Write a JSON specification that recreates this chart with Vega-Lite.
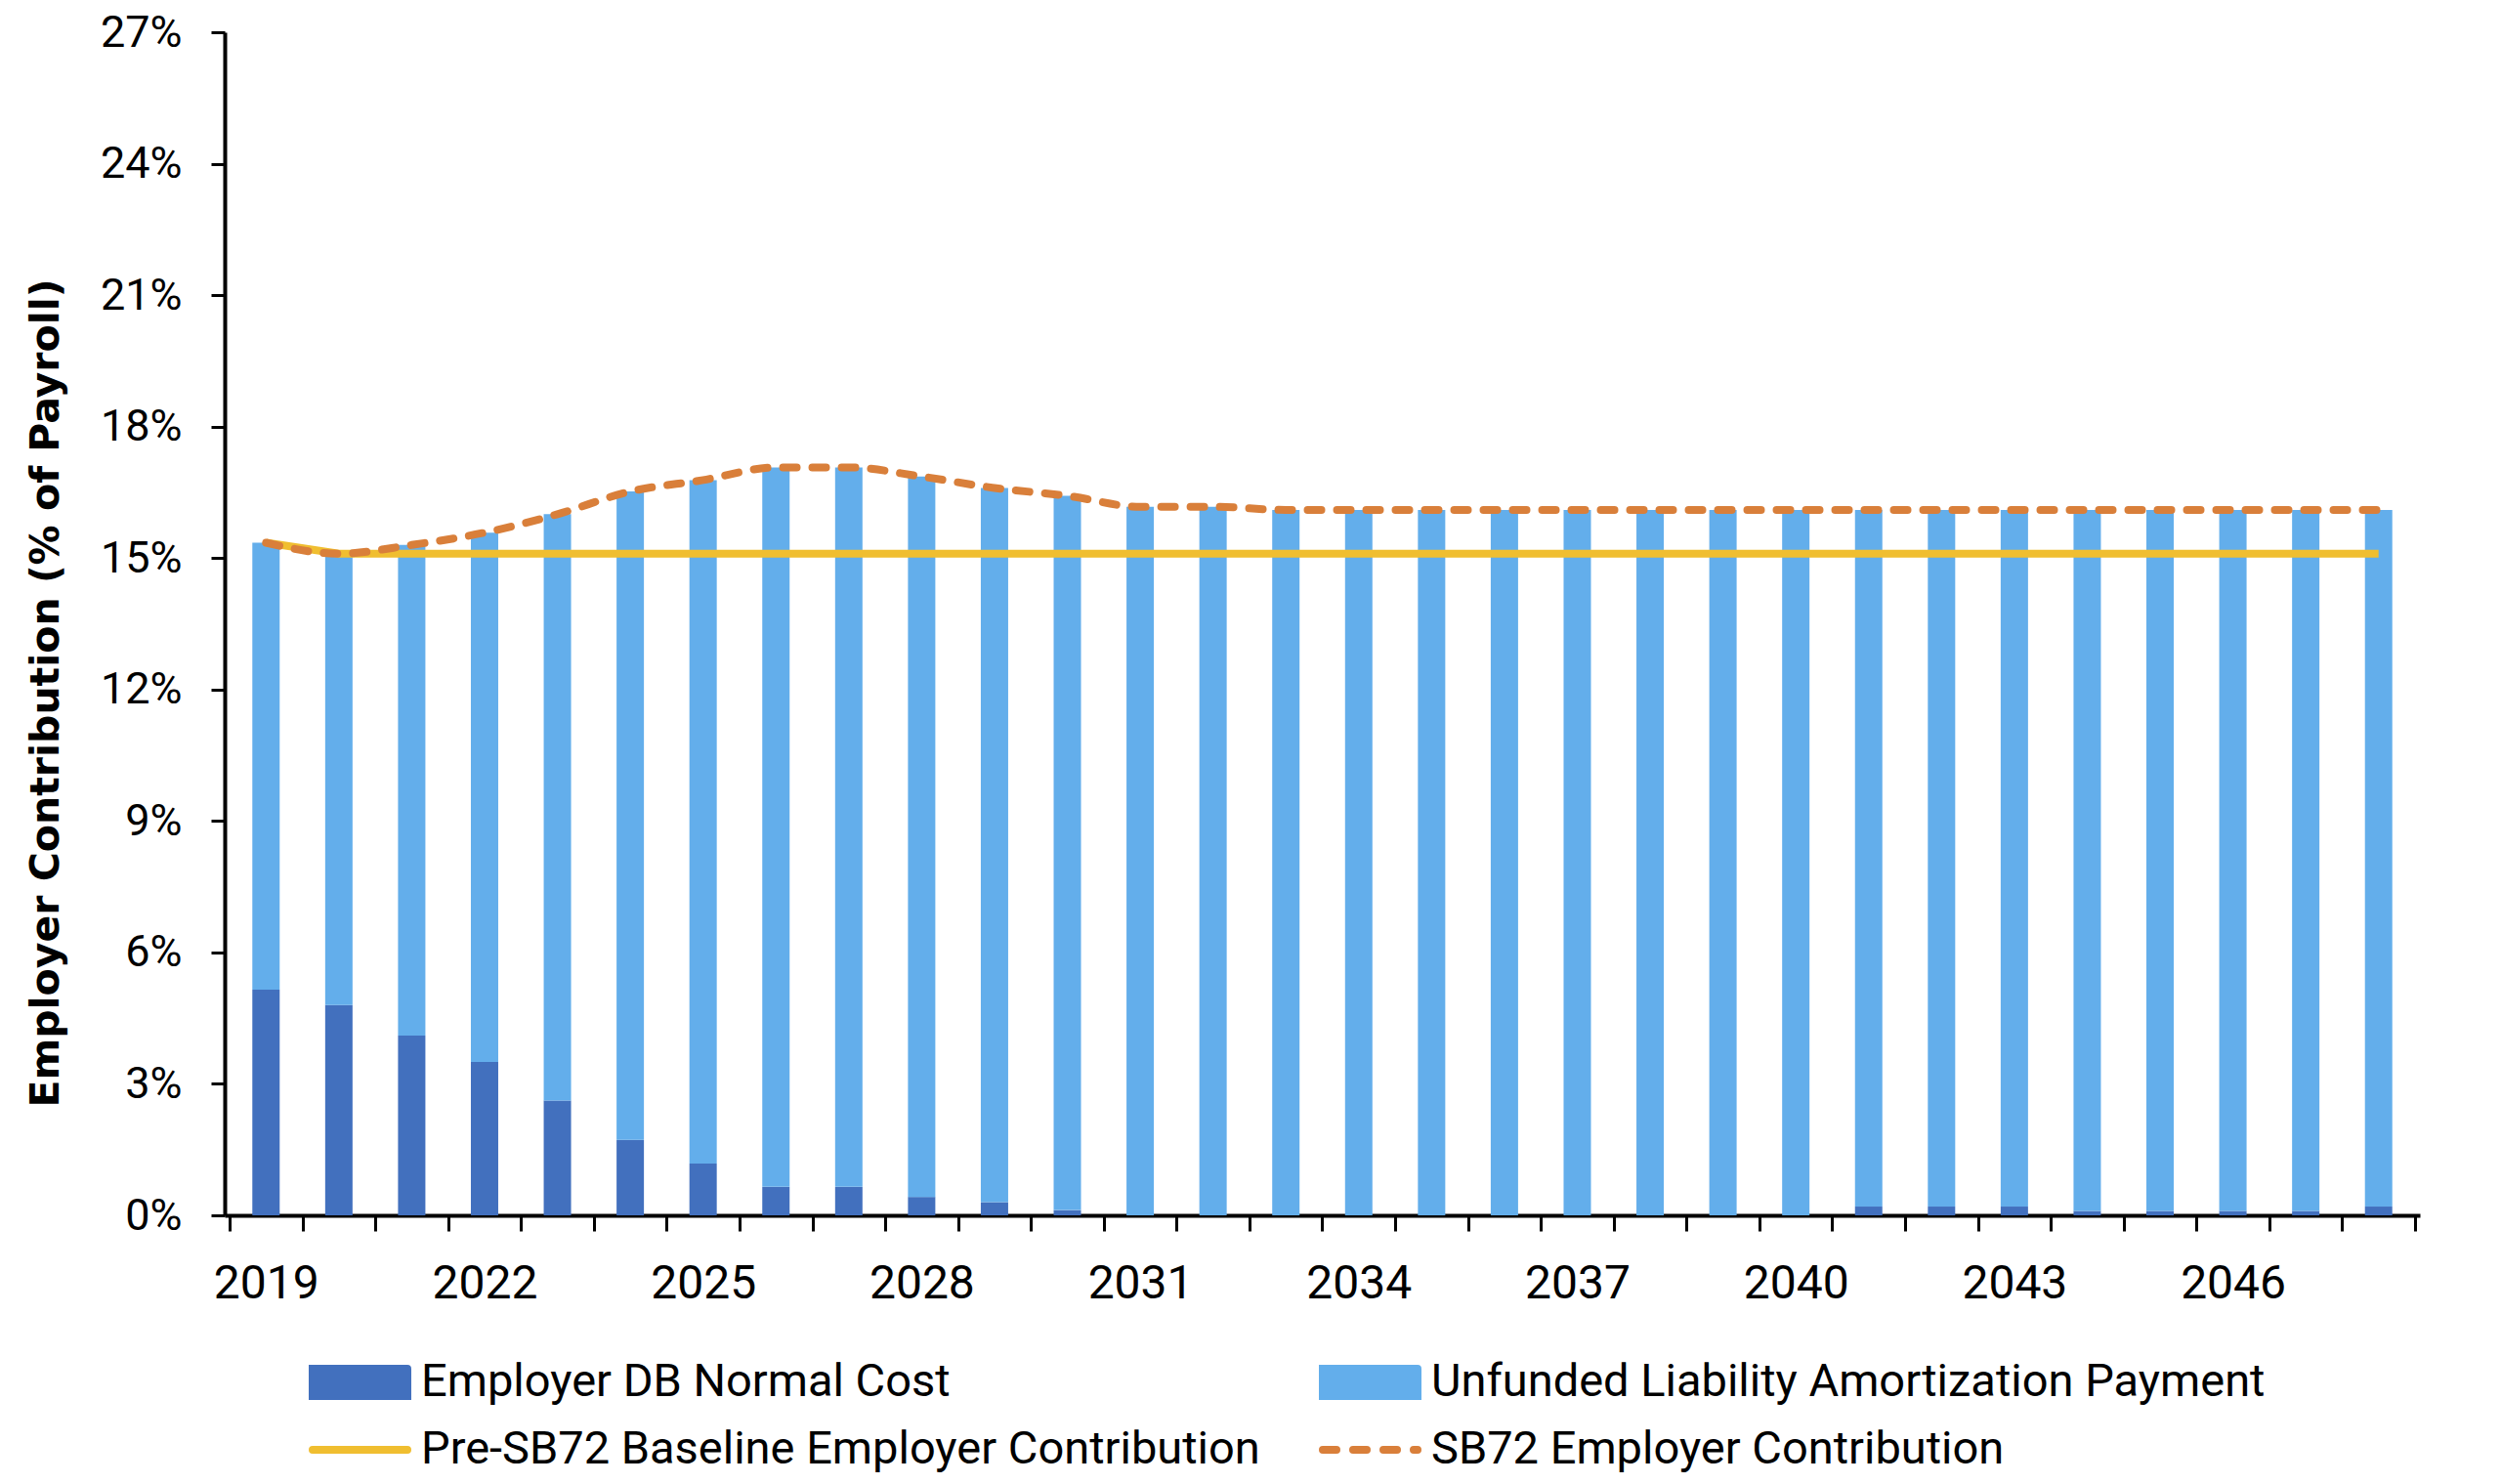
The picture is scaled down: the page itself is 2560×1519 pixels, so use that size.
{
  "$schema": "https://vega.github.io/schema/vega-lite/v6.json",
  "width": 2247,
  "height": 1211,
  "autosize": {"type": "none"},
  "padding": {"left": 230, "top": 33, "right": 83, "bottom": 275},
  "background": "white",
  "config": {"view": {"stroke": null}, "font": "Roboto", "axis": {"grid": false}},
  "data": {"values": [
    {"year": 2019, "series": "Employer DB Normal Cost", "value": 5.15},
    {"year": 2020, "series": "Employer DB Normal Cost", "value": 4.8},
    {"year": 2021, "series": "Employer DB Normal Cost", "value": 4.1},
    {"year": 2022, "series": "Employer DB Normal Cost", "value": 3.5},
    {"year": 2023, "series": "Employer DB Normal Cost", "value": 2.62},
    {"year": 2024, "series": "Employer DB Normal Cost", "value": 1.72},
    {"year": 2025, "series": "Employer DB Normal Cost", "value": 1.18},
    {"year": 2026, "series": "Employer DB Normal Cost", "value": 0.65},
    {"year": 2027, "series": "Employer DB Normal Cost", "value": 0.65},
    {"year": 2028, "series": "Employer DB Normal Cost", "value": 0.42},
    {"year": 2029, "series": "Employer DB Normal Cost", "value": 0.3},
    {"year": 2030, "series": "Employer DB Normal Cost", "value": 0.12},
    {"year": 2031, "series": "Employer DB Normal Cost", "value": 0},
    {"year": 2032, "series": "Employer DB Normal Cost", "value": 0},
    {"year": 2033, "series": "Employer DB Normal Cost", "value": 0},
    {"year": 2034, "series": "Employer DB Normal Cost", "value": 0},
    {"year": 2035, "series": "Employer DB Normal Cost", "value": 0},
    {"year": 2036, "series": "Employer DB Normal Cost", "value": 0},
    {"year": 2037, "series": "Employer DB Normal Cost", "value": 0},
    {"year": 2038, "series": "Employer DB Normal Cost", "value": 0},
    {"year": 2039, "series": "Employer DB Normal Cost", "value": 0},
    {"year": 2040, "series": "Employer DB Normal Cost", "value": 0},
    {"year": 2041, "series": "Employer DB Normal Cost", "value": 0.2},
    {"year": 2042, "series": "Employer DB Normal Cost", "value": 0.2},
    {"year": 2043, "series": "Employer DB Normal Cost", "value": 0.2},
    {"year": 2044, "series": "Employer DB Normal Cost", "value": 0.1},
    {"year": 2045, "series": "Employer DB Normal Cost", "value": 0.1},
    {"year": 2046, "series": "Employer DB Normal Cost", "value": 0.1},
    {"year": 2047, "series": "Employer DB Normal Cost", "value": 0.1},
    {"year": 2048, "series": "Employer DB Normal Cost", "value": 0.2},
    {"year": 2019, "series": "Unfunded Liability Amortization Payment", "value": 10.2},
    {"year": 2020, "series": "Unfunded Liability Amortization Payment", "value": 10.3},
    {"year": 2021, "series": "Unfunded Liability Amortization Payment", "value": 11.2},
    {"year": 2022, "series": "Unfunded Liability Amortization Payment", "value": 12.08},
    {"year": 2023, "series": "Unfunded Liability Amortization Payment", "value": 13.38},
    {"year": 2024, "series": "Unfunded Liability Amortization Payment", "value": 14.8},
    {"year": 2025, "series": "Unfunded Liability Amortization Payment", "value": 15.6},
    {"year": 2026, "series": "Unfunded Liability Amortization Payment", "value": 16.42},
    {"year": 2027, "series": "Unfunded Liability Amortization Payment", "value": 16.42},
    {"year": 2028, "series": "Unfunded Liability Amortization Payment", "value": 16.44},
    {"year": 2029, "series": "Unfunded Liability Amortization Payment", "value": 16.3},
    {"year": 2030, "series": "Unfunded Liability Amortization Payment", "value": 16.3},
    {"year": 2031, "series": "Unfunded Liability Amortization Payment", "value": 16.17},
    {"year": 2032, "series": "Unfunded Liability Amortization Payment", "value": 16.17},
    {"year": 2033, "series": "Unfunded Liability Amortization Payment", "value": 16.1},
    {"year": 2034, "series": "Unfunded Liability Amortization Payment", "value": 16.1},
    {"year": 2035, "series": "Unfunded Liability Amortization Payment", "value": 16.1},
    {"year": 2036, "series": "Unfunded Liability Amortization Payment", "value": 16.1},
    {"year": 2037, "series": "Unfunded Liability Amortization Payment", "value": 16.1},
    {"year": 2038, "series": "Unfunded Liability Amortization Payment", "value": 16.1},
    {"year": 2039, "series": "Unfunded Liability Amortization Payment", "value": 16.1},
    {"year": 2040, "series": "Unfunded Liability Amortization Payment", "value": 16.1},
    {"year": 2041, "series": "Unfunded Liability Amortization Payment", "value": 15.9},
    {"year": 2042, "series": "Unfunded Liability Amortization Payment", "value": 15.9},
    {"year": 2043, "series": "Unfunded Liability Amortization Payment", "value": 15.9},
    {"year": 2044, "series": "Unfunded Liability Amortization Payment", "value": 16.0},
    {"year": 2045, "series": "Unfunded Liability Amortization Payment", "value": 16.0},
    {"year": 2046, "series": "Unfunded Liability Amortization Payment", "value": 16.0},
    {"year": 2047, "series": "Unfunded Liability Amortization Payment", "value": 16.0},
    {"year": 2048, "series": "Unfunded Liability Amortization Payment", "value": 15.9},
    {"year": 2019, "series": "Pre-SB72 Baseline Employer Contribution", "value": 15.35},
    {"year": 2020, "series": "Pre-SB72 Baseline Employer Contribution", "value": 15.1},
    {"year": 2021, "series": "Pre-SB72 Baseline Employer Contribution", "value": 15.1},
    {"year": 2022, "series": "Pre-SB72 Baseline Employer Contribution", "value": 15.1},
    {"year": 2023, "series": "Pre-SB72 Baseline Employer Contribution", "value": 15.1},
    {"year": 2024, "series": "Pre-SB72 Baseline Employer Contribution", "value": 15.1},
    {"year": 2025, "series": "Pre-SB72 Baseline Employer Contribution", "value": 15.1},
    {"year": 2026, "series": "Pre-SB72 Baseline Employer Contribution", "value": 15.1},
    {"year": 2027, "series": "Pre-SB72 Baseline Employer Contribution", "value": 15.1},
    {"year": 2028, "series": "Pre-SB72 Baseline Employer Contribution", "value": 15.1},
    {"year": 2029, "series": "Pre-SB72 Baseline Employer Contribution", "value": 15.1},
    {"year": 2030, "series": "Pre-SB72 Baseline Employer Contribution", "value": 15.1},
    {"year": 2031, "series": "Pre-SB72 Baseline Employer Contribution", "value": 15.1},
    {"year": 2032, "series": "Pre-SB72 Baseline Employer Contribution", "value": 15.1},
    {"year": 2033, "series": "Pre-SB72 Baseline Employer Contribution", "value": 15.1},
    {"year": 2034, "series": "Pre-SB72 Baseline Employer Contribution", "value": 15.1},
    {"year": 2035, "series": "Pre-SB72 Baseline Employer Contribution", "value": 15.1},
    {"year": 2036, "series": "Pre-SB72 Baseline Employer Contribution", "value": 15.1},
    {"year": 2037, "series": "Pre-SB72 Baseline Employer Contribution", "value": 15.1},
    {"year": 2038, "series": "Pre-SB72 Baseline Employer Contribution", "value": 15.1},
    {"year": 2039, "series": "Pre-SB72 Baseline Employer Contribution", "value": 15.1},
    {"year": 2040, "series": "Pre-SB72 Baseline Employer Contribution", "value": 15.1},
    {"year": 2041, "series": "Pre-SB72 Baseline Employer Contribution", "value": 15.1},
    {"year": 2042, "series": "Pre-SB72 Baseline Employer Contribution", "value": 15.1},
    {"year": 2043, "series": "Pre-SB72 Baseline Employer Contribution", "value": 15.1},
    {"year": 2044, "series": "Pre-SB72 Baseline Employer Contribution", "value": 15.1},
    {"year": 2045, "series": "Pre-SB72 Baseline Employer Contribution", "value": 15.1},
    {"year": 2046, "series": "Pre-SB72 Baseline Employer Contribution", "value": 15.1},
    {"year": 2047, "series": "Pre-SB72 Baseline Employer Contribution", "value": 15.1},
    {"year": 2048, "series": "Pre-SB72 Baseline Employer Contribution", "value": 15.1},
    {"year": 2019, "series": "SB72 Employer Contribution", "value": 15.35},
    {"year": 2020, "series": "SB72 Employer Contribution", "value": 15.1},
    {"year": 2021, "series": "SB72 Employer Contribution", "value": 15.3},
    {"year": 2022, "series": "SB72 Employer Contribution", "value": 15.58},
    {"year": 2023, "series": "SB72 Employer Contribution", "value": 16.0},
    {"year": 2024, "series": "SB72 Employer Contribution", "value": 16.52},
    {"year": 2025, "series": "SB72 Employer Contribution", "value": 16.78},
    {"year": 2026, "series": "SB72 Employer Contribution", "value": 17.07},
    {"year": 2027, "series": "SB72 Employer Contribution", "value": 17.07},
    {"year": 2028, "series": "SB72 Employer Contribution", "value": 16.86},
    {"year": 2029, "series": "SB72 Employer Contribution", "value": 16.6},
    {"year": 2030, "series": "SB72 Employer Contribution", "value": 16.42},
    {"year": 2031, "series": "SB72 Employer Contribution", "value": 16.17},
    {"year": 2032, "series": "SB72 Employer Contribution", "value": 16.17},
    {"year": 2033, "series": "SB72 Employer Contribution", "value": 16.1},
    {"year": 2034, "series": "SB72 Employer Contribution", "value": 16.1},
    {"year": 2035, "series": "SB72 Employer Contribution", "value": 16.1},
    {"year": 2036, "series": "SB72 Employer Contribution", "value": 16.1},
    {"year": 2037, "series": "SB72 Employer Contribution", "value": 16.1},
    {"year": 2038, "series": "SB72 Employer Contribution", "value": 16.1},
    {"year": 2039, "series": "SB72 Employer Contribution", "value": 16.1},
    {"year": 2040, "series": "SB72 Employer Contribution", "value": 16.1},
    {"year": 2041, "series": "SB72 Employer Contribution", "value": 16.1},
    {"year": 2042, "series": "SB72 Employer Contribution", "value": 16.1},
    {"year": 2043, "series": "SB72 Employer Contribution", "value": 16.1},
    {"year": 2044, "series": "SB72 Employer Contribution", "value": 16.1},
    {"year": 2045, "series": "SB72 Employer Contribution", "value": 16.1},
    {"year": 2046, "series": "SB72 Employer Contribution", "value": 16.1},
    {"year": 2047, "series": "SB72 Employer Contribution", "value": 16.1},
    {"year": 2048, "series": "SB72 Employer Contribution", "value": 16.1}
  ]},
  "layer": [
    {
      "transform": [{"filter": "datum.series === 'Employer DB Normal Cost' || datum.series === 'Unfunded Liability Amortization Payment'"}],
      "mark": {"type": "bar", "width": 28},
      "encoding": {
        "x": {
          "field": "year", "type": "quantitative",
          "scale": {"domain": [2018.5, 2048.5], "nice": false, "zero": false},
          "axis": {
            "orient": "bottom", "title": null, "labels": false,
            "values": [2018.5, 2019.5, 2020.5, 2021.5, 2022.5, 2023.5, 2024.5, 2025.5, 2026.5, 2027.5, 2028.5, 2029.5, 2030.5, 2031.5, 2032.5, 2033.5, 2034.5, 2035.5, 2036.5, 2037.5, 2038.5, 2039.5, 2040.5, 2041.5, 2042.5, 2043.5, 2044.5, 2045.5, 2046.5, 2047.5, 2048.5],
            "ticks": true, "tickSize": 16, "tickWidth": 3, "tickColor": "black",
            "domainColor": "black", "domainWidth": 4, "grid": false
          }
        },
        "y": {
          "field": "value", "type": "quantitative", "stack": "zero",
          "scale": {"domain": [0, 27], "nice": false},
          "axis": {
            "title": "Employer Contribution (% of Payroll)",
            "titleFont": "DejaVu Sans", "titleFontWeight": "bold", "titleFontSize": 41, "titleColor": "black",
            "titlePadding": 34, "titleY": 676,
            "values": [0, 3, 6, 9, 12, 15, 18, 21, 24, 27],
            "labelExpr": "datum.value + '%'",
            "labelFont": "Roboto", "labelFontSize": 45, "labelColor": "black", "labelPadding": 30,
            "tickSize": 14, "tickWidth": 3, "tickColor": "black",
            "domainColor": "black", "domainWidth": 4, "grid": false
          }
        },
        "order": {"field": "series", "sort": "ascending"},
        "color": {
          "field": "series", "type": "nominal",
          "scale": {
            "domain": ["Employer DB Normal Cost", "Unfunded Liability Amortization Payment", "Pre-SB72 Baseline Employer Contribution", "SB72 Employer Contribution"],
            "range": ["#4270BE", "#63AEEB", "#F0BE30", "#D97F3A"]
          },
          "legend": {
            "title": null, "orient": "none", "legendX": 86, "legendY": 1362,
            "direction": "horizontal", "columns": 2, "padding": 0,
            "labelFont": "Roboto", "labelFontSize": 47, "labelColor": "black", "labelLimit": 2000,
            "labelOffset": 10, "symbolSize": 9409, "symbolStrokeWidth": 8, "clipHeight": 40, "rowPadding": 22, "columnPadding": 60,
            "encode": {
              "symbols": {
                "update": {
                  "shape": {"signal": "datum.value === 'Pre-SB72 Baseline Employer Contribution' || datum.value === 'SB72 Employer Contribution' ? 'M-1,0H1' : 'M-1,-0.29H1V0.29H-1Z'"},
                  "size": {"value": 9409},
                  "fill": {"signal": "datum.value === 'Employer DB Normal Cost' ? '#4270BE' : datum.value === 'Unfunded Liability Amortization Payment' ? '#63AEEB' : 'transparent'"},
                  "stroke": {"signal": "datum.value === 'Pre-SB72 Baseline Employer Contribution' ? '#F0BE30' : datum.value === 'SB72 Employer Contribution' ? '#D97F3A' : 'transparent'"},
                  "strokeWidth": {"value": 8},
                  "strokeCap": {"value": "round"},
                  "strokeDash": {"signal": "datum.value === 'SB72 Employer Contribution' ? [14, 17] : [1, 0]"},
                  "opacity": {"value": 1}
                }
              }
            }
          }
        }
      }
    },
    {
      "transform": [{"filter": "datum.series === 'Pre-SB72 Baseline Employer Contribution'"}],
      "mark": {"type": "line", "strokeWidth": 8},
      "encoding": {
        "x": {
          "field": "year", "type": "quantitative",
          "axis": {
            "orient": "bottom", "title": null,
            "values": [2019, 2022, 2025, 2028, 2031, 2034, 2037, 2040, 2043, 2046],
            "format": "d", "ticks": false, "tickSize": 0, "domain": false, "grid": false,
            "labelFont": "Roboto", "labelFontSize": 48, "labelColor": "black", "labelPadding": 46
          }
        },
        "y": {"field": "value", "type": "quantitative"},
        "color": {"field": "series", "type": "nominal"}
      }
    },
    {
      "transform": [{"filter": "datum.series === 'SB72 Employer Contribution'"}],
      "mark": {"type": "line", "strokeWidth": 8, "strokeDash": [14, 16], "strokeCap": "round", "interpolate": "monotone"},
      "encoding": {
        "x": {"field": "year", "type": "quantitative", "axis": null},
        "y": {"field": "value", "type": "quantitative"},
        "color": {"field": "series", "type": "nominal"}
      }
    }
  ],
  "resolve": {"axis": {"x": "independent"}}
}
